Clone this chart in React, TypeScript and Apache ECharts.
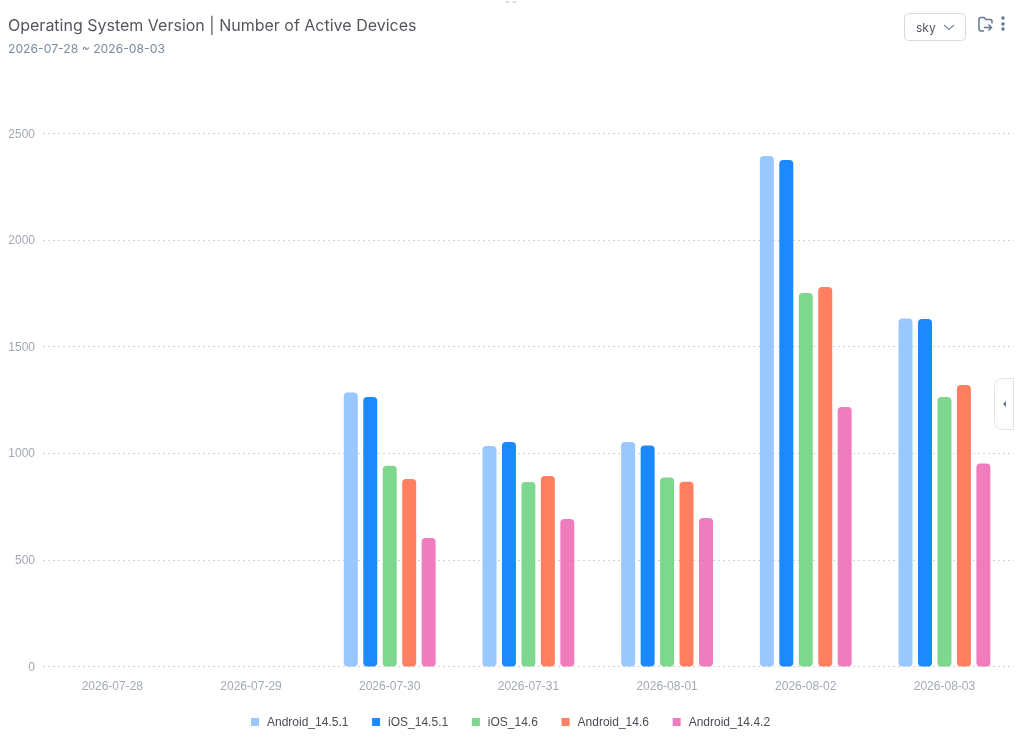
import React, { useEffect, useRef } from "react";
import * as echarts from "echarts";

const categories = ["2026-07-28", "2026-07-29", "2026-07-30", "2026-07-31", "2026-08-01", "2026-08-02", "2026-08-03"];
const android1451 = [null, null, 1285, 1034, 1053, 2394, 1632];
const ios1451 = [null, null, 1264, 1053, 1036, 2376, 1630];
const ios146 = [null, null, 942, 865, 886, 1752, 1264];
const android146 = [null, null, 879, 893, 867, 1780, 1320];
const android1442 = [null, null, 603, 692, 696, 1217, 952];
const seriesNames = ["Android_14.5.1", "iOS_14.5.1", "iOS_14.6", "Android_14.6", "Android_14.4.2"];
const seriesColors = ["#8FC3FF", "#0A7FFF", "#72D583", "#FF7452", "#EE72B8"];
const seriesValues = [android1451, ios1451, ios146, android146, android1442];
const titleText = "Operating System Version | Number of Active Devices";
const subtitleText = "2026-07-28 ~ 2026-08-03";
const FONT = "Inter, 'Noto Sans', sans-serif";
const AXIS_FONT = "'Liberation Sans', Arial, sans-serif";

echarts.graphic.registerShape(
  "folderIcon",
  echarts.graphic.extendPath(
    "M6 14.5 H3 Q1 14.5 1 12.5 V3 Q1 1 3 1 H6 L8 3 H12 Q14 3 14 5 V7 M6 11 H13.5 M10.5 8 L13.5 11 L10.5 14",
    {}
  )
);

export default function App() {
  const ref = useRef<HTMLDivElement>(null);
  useEffect(() => {
    const chart = echarts.init(ref.current!, undefined, { renderer: "svg" });
    chart.setOption({
      animation: false,
      textStyle: { fontFamily: FONT },
      title: {
        text: titleText,
        subtext: subtitleText,
        left: 8,
        top: 17,
        padding: 0,
        itemGap: 9,
        textStyle: { fontSize: 16, fontWeight: 400, color: "#55575F", fontFamily: FONT },
        subtextStyle: { fontSize: 12.2, color: "#7C8AA0", fontFamily: FONT },
      },
      legend: {
        bottom: 8,
        left: 246,
        icon: "rect",
        itemWidth: 8,
        itemHeight: 8,
        itemGap: 23.7,
        textStyle: { fontSize: 12, color: "#4A4D55", fontFamily: AXIS_FONT, padding: [0, 0, 0, 3] },
        data: seriesNames,
      },
      grid: { left: 43, right: 11.2, top: 133.5, bottom: 74.5, containLabel: false },
      xAxis: {
        type: "category",
        data: categories,
        axisLine: { show: false },
        axisTick: { show: false },
        axisLabel: { color: "#A3A8B5", fontSize: 12, margin: 13, fontFamily: AXIS_FONT },
      },
      yAxis: {
        type: "value",
        min: 0,
        max: 2500,
        interval: 500,
        axisLine: { show: false },
        axisTick: { show: false },
        axisLabel: { color: "#A3A8B5", fontSize: 12, margin: 8, align: "right", fontFamily: AXIS_FONT, formatter: (v: number) => String(v) },
        splitLine: { lineStyle: { type: [2, 3], color: "#CFD1D6", width: 1 } },
      },
      series: seriesNames.map((name, i) => ({
        name,
        type: "bar",
        data: seriesValues[i],
        barWidth: 14,
        barGap: "39%",
        itemStyle: { color: seriesColors[i], opacity: 0.92, borderRadius: 4 },
      })),
      graphic: [
        { type: "rect", shape: { x: 904.5, y: 13.5, width: 61, height: 27, r: 4 }, style: { fill: "#fff", stroke: "#D9DADD", lineWidth: 1 } },
        { type: "text", x: 916, y: 21, style: { text: "sky", fontSize: 12, fill: "#55575F", fontFamily: FONT } },
        { type: "polyline", shape: { points: [[944, 25], [949, 29.5], [954, 25]] }, style: { stroke: "#7C8AA0", fill: "none", lineWidth: 1.2 } },
        { type: "folderIcon", x: 978, y: 16.5, style: { fill: "none", stroke: "#667892", lineWidth: 1.5 } },
        { type: "circle", shape: { cx: 1003, cy: 18, r: 1.7 }, style: { fill: "#667892" } },
        { type: "circle", shape: { cx: 1003, cy: 24, r: 1.7 }, style: { fill: "#667892" } },
        { type: "circle", shape: { cx: 1003, cy: 29, r: 1.7 }, style: { fill: "#667892" } },
        { type: "rect", shape: { x: 994.5, y: 378.5, width: 19, height: 51, r: [8, 0, 0, 8] }, style: { fill: "#fff", stroke: "#E2E3E6", lineWidth: 1 } },
        { type: "polygon", shape: { points: [[1003, 404], [1006, 401], [1006, 407]] }, style: { fill: "#667892" } },
        { type: "line", shape: { x1: 506, y1: 2, x2: 509, y2: 2 }, style: { stroke: "#B9BBC0", lineWidth: 1 } },
        { type: "line", shape: { x1: 513, y1: 2, x2: 516, y2: 2 }, style: { stroke: "#B9BBC0", lineWidth: 1 } },
      ],
    });
    return () => chart.dispose();
  }, []);
  return <div ref={ref} style={{ position: "fixed", left: 0, top: 0, width: 1025, height: 741 }} />;
}
